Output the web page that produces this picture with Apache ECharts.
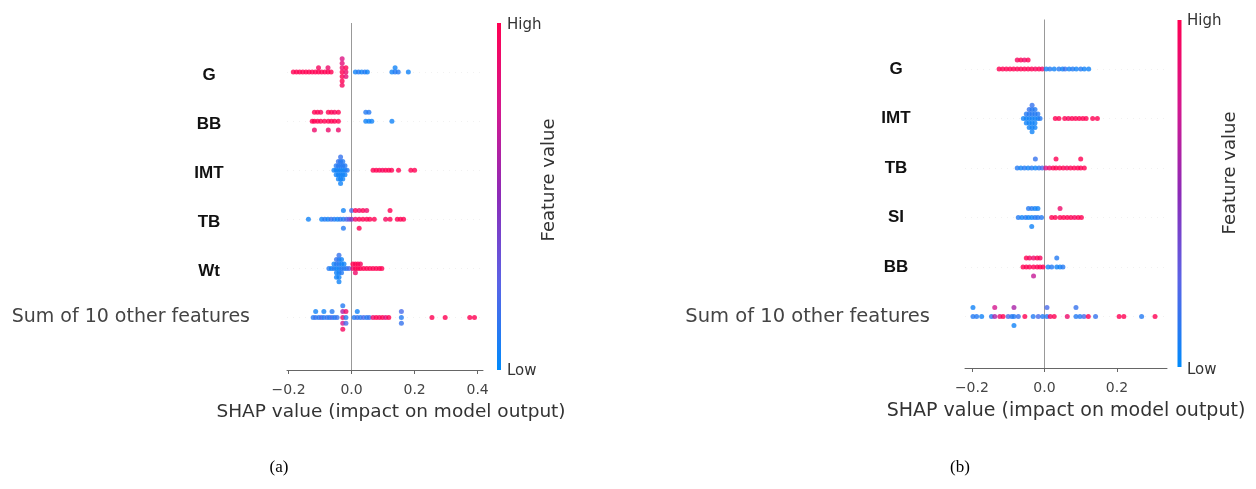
<!DOCTYPE html>
<html>
<head>
<meta charset="utf-8">
<script src="https://cdn.jsdelivr.net/npm/echarts@6/dist/echarts.min.js"></script>
<style>
  html, body { margin: 0; background: #fff; }
  #chart { width: 1256px; height: 489px; }
</style>
</head>
<body>
<div id="chart"></div>
<script>
// feature order, top to bottom
var featuresA = ['G', 'BB', 'IMT', 'TB', 'Wt', 'Sum of 10 other features'];
var featuresB = ['G', 'IMT', 'TB', 'SI', 'BB', 'Sum of 10 other features'];
var ticksA = [-0.2, 0, 0.2, 0.4];
var ticksB = [-0.2, 0, 0.2];

// [shap value, feature value (0 = low, 1 = high)]
var aG = [
  [-0.185,1],[-0.175,1],[-0.165,1],[-0.155,1],[-0.145,1],[-0.135,1],[-0.125,1],[-0.115,1],
  [-0.105,1],[-0.105,0.95],[-0.095,1],[-0.085,1],[-0.075,1],[-0.075,0.9],[-0.065,1],
  [-0.03,1],[-0.03,0.9],[-0.03,1],[-0.03,0.85],[-0.03,1],[-0.03,0.8],[-0.03,0.95],
  [-0.018,0.9],[-0.018,1],[-0.018,0.85],
  [0.012,0.05],[0.022,0.1],[0.032,0.05],[0.042,0.1],[0.05,0.05],
  [0.128,0.05],[0.138,0.1],[0.138,0.05],[0.148,0.1],[0.18,0.05]
];
var aBB = [
  [-0.125,1],[-0.118,1],[-0.118,1],[-0.118,0.9],[-0.108,1],[-0.108,1],[-0.098,1],[-0.098,0.95],
  [-0.086,1],[-0.074,1],[-0.074,1],[-0.074,0.9],[-0.064,1],[-0.064,1],[-0.054,1],[-0.054,0.95],
  [-0.042,1],[-0.042,1],[-0.042,0.9],
  [0.045,0.05],[0.045,0.1],[0.055,0.05],[0.055,0.1],[0.064,0.05],[0.128,0.05]
];
var aIMT = [
  [-0.056,0.05],
  [-0.049,0.05],[-0.049,0.1],[-0.049,0.05],
  [-0.042,0.05],[-0.042,0.1],[-0.042,0.05],[-0.042,0.15],[-0.042,0.05],
  [-0.035,0.05],[-0.035,0.1],[-0.035,0.05],[-0.035,0.1],[-0.035,0.05],[-0.035,0.15],[-0.035,0.05],
  [-0.028,0.05],[-0.028,0.1],[-0.028,0.05],[-0.028,0.1],[-0.028,0.05],
  [-0.021,0.05],[-0.021,0.1],[-0.021,0.05],
  [-0.014,0.1],
  [0.068,1],[0.078,1],[0.088,1],[0.098,0.95],[0.108,1],[0.118,1],[0.127,1],[0.149,1],[0.188,1],[0.2,1]
];
var aTB = [
  [-0.137,0.05],
  [-0.095,0.05],[-0.085,0.1],[-0.075,0.05],[-0.065,0.15],[-0.055,0.1],[-0.045,0.05],[-0.036,0.1],
  [-0.026,0.1],[-0.026,0.05],[-0.026,0.1],[-0.016,0.2],[-0.008,0.3],
  [0.0,0.45],[0.0,0.2],[0.012,0.9],[0.012,1],[0.024,1],[0.024,0.9],[0.024,1],
  [0.036,1],[0.036,1],[0.048,1],[0.048,0.9],[0.058,1],
  [0.072,1],[0.108,0.95],[0.122,1],[0.122,1],[0.145,1],[0.155,1],[0.165,1]
];
var aWt = [
  [-0.072,0.1],[-0.064,0.05],[-0.056,0.1],[-0.056,0.05],
  [-0.048,0.05],[-0.048,0.1],[-0.048,0.05],[-0.048,0.15],[-0.048,0.05],
  [-0.04,0.05],[-0.04,0.1],[-0.04,0.05],[-0.04,0.1],[-0.04,0.05],[-0.04,0.15],[-0.04,0.05],
  [-0.032,0.1],[-0.032,0.05],[-0.032,0.1],[-0.032,0.05],
  [-0.024,0.1],[-0.024,0.05],[-0.016,0.1],[-0.008,0.2],
  [0.004,0.9],[0.004,1],[0.012,1],[0.012,1],[0.012,0.9],[0.02,1],[0.02,1],[0.028,1],[0.028,0.95],
  [0.038,1],[0.048,1],[0.058,1],[0.068,1],[0.078,1],[0.088,1],[0.096,1]
];
var aSum = [
  [-0.122,0.1],[-0.114,0.15],[-0.114,0.05],[-0.104,0.1],[-0.096,0.2],[-0.088,0.1],[-0.088,0.05],
  [-0.078,0.15],[-0.07,0.1],[-0.062,0.2],[-0.062,0.1],[-0.054,0.1],[-0.046,0.15],
  [-0.028,0.9],[-0.028,0.6],[-0.028,0.75],[-0.028,0.1],[-0.028,0.95],
  [-0.018,0.1],[-0.018,0.9],[-0.018,0.2],
  [0.008,0.1],[0.018,0.15],[0.018,0.05],[0.028,0.1],[0.038,0.2],[0.048,0.1],[0.056,0.15],
  [0.068,0.9],[0.078,1],[0.088,0.95],[0.098,1],[0.108,0.85],[0.118,1],
  [0.158,0.1],[0.158,0.2],[0.158,0.15],
  [0.255,1],[0.297,1],[0.375,1],[0.39,1]
];

var bG = [
  [-0.125,1],[-0.115,1],[-0.105,1],[-0.095,1],[-0.085,1],
  [-0.075,1],[-0.075,0.95],[-0.065,1],[-0.065,1],[-0.055,1],[-0.055,0.9],[-0.045,1],[-0.045,1],
  [-0.035,1],[-0.025,0.95],[-0.015,1],[-0.006,0.9],
  [0.005,0.05],[0.015,0.1],[0.027,0.05],[0.04,0.1],[0.05,0.05],[0.057,0.15],
  [0.068,0.05],[0.078,0.1],[0.088,0.05],[0.1,0.1],[0.11,0.05],[0.122,0.05]
];
var bIMT = [
  [-0.058,0.05],
  [-0.05,0.05],[-0.05,0.1],[-0.05,0.05],
  [-0.042,0.05],[-0.042,0.1],[-0.042,0.05],[-0.042,0.15],[-0.042,0.05],
  [-0.034,0.05],[-0.034,0.1],[-0.034,0.05],[-0.034,0.1],[-0.034,0.05],[-0.034,0.15],[-0.034,0.05],
  [-0.026,0.05],[-0.026,0.1],[-0.026,0.05],[-0.026,0.1],[-0.026,0.05],
  [-0.018,0.05],[-0.018,0.1],
  [-0.012,0.1],
  [0.03,1],[0.04,1],[0.056,1],[0.066,0.95],[0.076,1],[0.086,1],[0.096,1],[0.106,1],[0.115,1],[0.133,1],[0.146,1]
];
var bTB = [
  [-0.075,0.1],[-0.065,0.05],[-0.055,0.1],[-0.045,0.05],[-0.035,0.1],[-0.025,0.05],[-0.025,0.15],
  [-0.015,0.1],[-0.006,0.2],
  [0.004,0.8],[0.014,0.9],[0.024,1],[0.032,1],[0.032,1],[0.042,1],[0.052,1],[0.062,0.95],
  [0.072,1],[0.082,1],[0.092,1],[0.1,1],[0.1,1],[0.11,1]
];
var bSI = [
  [-0.072,0.1],[-0.062,0.05],[-0.052,0.1],[-0.044,0.05],[-0.044,0.1],
  [-0.035,0.05],[-0.035,0.1],[-0.035,0.05],[-0.026,0.1],[-0.026,0.05],[-0.018,0.1],[-0.018,0.05],[-0.008,0.1],
  [0.02,1],[0.03,1],[0.043,1],[0.043,0.9],[0.053,1],[0.063,1],[0.073,1],[0.083,0.95],[0.093,1],[0.102,1]
];
var bBB = [
  [-0.059,1],[-0.05,1],[-0.05,1],[-0.041,1],[-0.041,0.95],[-0.03,1],[-0.03,0.9],[-0.03,0.7],
  [-0.02,1],[-0.02,1],[-0.012,1],[-0.012,0.95],[-0.004,1],
  [0.01,0.05],[0.02,0.1],[0.034,0.05],[0.034,0.1],[0.043,0.05],[0.051,0.1]
];
var bSum = [
  [-0.197,0.1],[-0.197,0.05],[-0.187,0.1],[-0.173,0.05],[-0.146,0.1],
  [-0.137,0.6],[-0.137,0.75],[-0.123,0.9],[-0.114,1],[-0.1,0.2],[-0.09,0.1],
  [-0.084,0.1],[-0.084,0.6],[-0.084,0.05],[-0.072,0.15],[-0.054,1],
  [-0.031,0.1],[-0.017,0.2],[-0.005,0.1],[0.007,0.1],[0.007,0.2],[0.016,0.95],[0.027,1],
  [0.063,0.9],[0.087,0.1],[0.087,0.15],[0.098,0.1],[0.109,0.2],[0.121,1],[0.141,0.15],
  [0.206,1],[0.219,1],[0.268,0.1],[0.305,1]
];

var rowsA = [aG, aBB, aIMT, aTB, aWt, aSum];
var rowsB = [bG, bIMT, bTB, bSI, bBB, bSum];

var palette = ['#008bfb', '#5a63e6', '#8c2bb8', '#d4188f', '#ff0052'];
var font = 'DejaVu Sans';

// beeswarm layout like shap: bin the values, stack points of one bin up/down
function swarm(points, rowY) {
  var vals = points.map(function (p) { return p[0]; });
  var lo = Math.min.apply(null, vals), hi = Math.max.apply(null, vals);
  var quant = vals.map(function (v) { return Math.round(100 * (v - lo) / (hi - lo + 1e-8)); });
  var order = vals.map(function (v, i) { return i; });
  order.sort(function (a, b) { return quant[a] - quant[b] || a - b; });
  var ys = [], layer = 0, last = -1;
  order.forEach(function (i) {
    if (quant[i] !== last) layer = 0;
    ys[i] = Math.ceil(layer / 2) * ((layer % 2) * 2 - 1);
    layer++;
    last = quant[i];
  });
  var maxY = Math.max.apply(null, ys.map(function (y) { return y + 1; }));
  var scale = 0.9 * 0.4 / maxY;
  return points.map(function (p, i) { return [p[0], rowY + ys[i] * scale, p[1]]; });
}

function panelData(rows) {
  var out = [];
  rows.forEach(function (pts, k) {
    out = out.concat(swarm(pts, rows.length - 1 - k));
  });
  return out;
}

function tickFmt(v) {
  return (v < 0 ? '\u2212' : '') + Math.abs(v).toFixed(1);
}

function guideLines(n) {
  var d = [{ xAxis: 0, lineStyle: { color: '#999', width: 1, type: 'solid' } }];
  for (var i = 0; i < n; i++) {
    d.push({ yAxis: i, lineStyle: { color: '#f1f1f1', width: 1, type: [1, 5] } });
  }
  return d;
}

function xAxisFor(idx, min, max, ticks, size, gap, shift) {
  return {
    gridIndex: idx, type: 'value', min: min, max: max,
    name: 'SHAP value (impact on model output)', nameLocation: 'middle', nameGap: gap,
    nameTextStyle: { fontFamily: font, fontSize: size, color: '#333', padding: [0, 0, 0, shift] },
    axisLine: { show: true, onZero: false, lineStyle: { color: '#666', width: 1 } },
    axisTick: { show: true, customValues: ticks, length: 4, lineStyle: { color: '#666' } },
    axisLabel: { customValues: ticks, formatter: tickFmt, margin: 13, fontFamily: font, fontSize: 14, color: '#444' },
    splitLine: { show: false }
  };
}

function yAxisFor(idx, names, min, margin, boxW, size, drop) {
  return {
    gridIndex: idx, type: 'value', min: min, max: 6,
    axisLine: { show: false }, axisTick: { show: false }, splitLine: { show: false },
    axisLabel: {
      customValues: [0, 1, 2, 3, 4, 5], margin: margin,
      formatter: function (v) {
        var name = names[names.length - 1 - v];
        return name.indexOf('Sum') === 0 ? '{s|' + name + '}' : '{b|' + name + '}';
      },
      rich: {
        b: { fontFamily: 'Liberation Sans', fontWeight: 'bold', fontSize: 17, color: '#111', width: boxW, align: 'center', padding: [drop, 0, 0, 0] },
        s: { fontFamily: font, fontSize: size, color: '#444' }
      }
    }
  };
}

function colorBar(x, y, h) {
  return {
    type: 'rect', shape: { x: x, y: y, width: 4, height: h },
    style: {
      fill: new echarts.graphic.LinearGradient(0, 0, 0, 1, palette.slice().reverse().map(function (c, i) {
        return { offset: i / (palette.length - 1), color: c };
      }))
    }
  };
}

function label(text, x, y, size, extra) {
  var el = {
    type: 'text', x: x, y: y,
    style: { text: text, font: size + 'px "' + font + '"', fill: '#333', verticalAlign: 'middle' }
  };
  if (extra) {
    for (var k in extra) el[k] = extra[k];
    if (extra.align) el.style.align = extra.align;
  }
  return el;
}

var chart = echarts.init(document.getElementById('chart'));
var option = {
  animation: false,
  grid: [
    { left: 287, top: 23, width: 196, height: 347 },
    { left: 965, top: 19.5, width: 202, height: 348.5 }
  ],
  xAxis: [
    xAxisFor(0, -0.205, 0.417, ticksA, 18.5, 33, 12),
    xAxisFor(1, -0.219, 0.338, ticksB, 19, 34, 0)
  ],
  yAxis: [
    yAxisFor(0, featuresA, -1.07, 37, 82, 19, 6),
    yAxisFor(1, featuresB, -1.04, 35, 68, 19.5, 0)
  ],
  visualMap: [{
    type: 'continuous', show: false, min: 0, max: 1, dimension: 2,
    seriesIndex: [0, 1], inRange: { color: palette }
  }],
  series: [
    {
      type: 'scatter', xAxisIndex: 0, yAxisIndex: 0, symbolSize: 5, z: 3,
      data: panelData(rowsA),
      markLine: { silent: true, symbol: 'none', z: 1, label: { show: false }, data: guideLines(6) }
    },
    {
      type: 'scatter', xAxisIndex: 1, yAxisIndex: 1, symbolSize: 5, z: 3,
      data: panelData(rowsB),
      markLine: { silent: true, symbol: 'none', z: 1, label: { show: false }, data: guideLines(6) }
    }
  ],
  graphic: [
    colorBar(497, 23, 347),
    label('High', 507, 25, 15),
    label('Low', 507, 371, 15),
    label('Feature value', 549, 180, 18, { rotation: Math.PI / 2, align: 'center' }),
    colorBar(1177.5, 20, 347),
    label('High', 1187, 21, 15),
    label('Low', 1187, 370, 15),
    label('Feature value', 1230, 173, 18, { rotation: Math.PI / 2, align: 'center' }),
    {
      type: 'text', x: 279, y: 468,
      style: { text: '(a)', font: '17px "Liberation Serif"', fill: '#000', align: 'center', verticalAlign: 'middle' }
    },
    {
      type: 'text', x: 960, y: 468,
      style: { text: '(b)', font: '17px "Liberation Serif"', fill: '#000', align: 'center', verticalAlign: 'middle' }
    }
  ]
};
chart.setOption(option);
</script>
</body>
</html>
